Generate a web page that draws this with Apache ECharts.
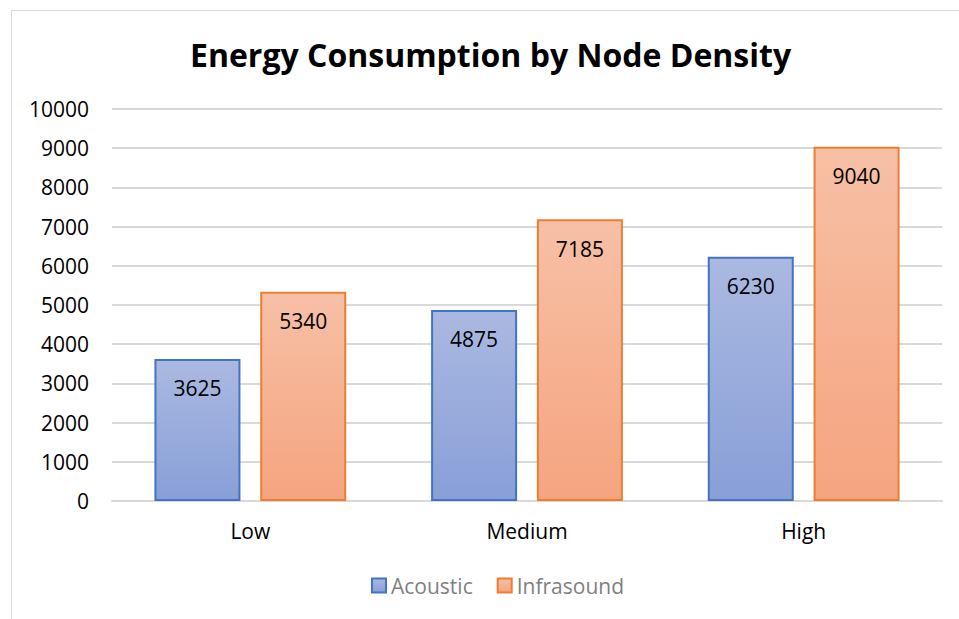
<!DOCTYPE html>
<html lang="en">
<head>
    <meta charset="UTF-8">
    <title>Energy Consumption</title>
    <script src="https://cdn.jsdelivr.net/npm/echarts@6.0.0/dist/echarts.min.js"></script>
    <style>
        body { margin: 0; background: #fff; }
        #frame {
            position: absolute; left: 11px; top: 10px;
            width: 960px; height: 620px;
            border: 1px solid #d9d9d9; box-sizing: border-box;
        }
        #chart { position: absolute; left: 0; top: 0; width: 959px; height: 619px; }
    </style>
</head>
<body>
    <div id="frame"></div>
    <div id="chart"></div>
    <script type="text/javascript">
        const categories = ['Low', 'Medium', 'High'];
        const acoustic = [3625, 4875, 6230];
        const infrasound = [5340, 7185, 9040];
        const yTicks = { min: 0, max: 10000, interval: 1000 };

        const chart = echarts.init(document.getElementById('chart'), null, { renderer: 'svg' });

        const grad = (top, bottom) => new echarts.graphic.LinearGradient(0, 0, 0, 1, [
            { offset: 0, color: top }, { offset: 1, color: bottom }
        ]);

        const label = {
            show: true, position: 'insideTop', distance: 19,
            color: '#000', fontSize: 21, fontFamily: 'Open Sans'
        };

        chart.setOption({
            animation: false,
            title: {
                text: 'Energy Consumption by Node Density',
                left: 185, top: 33,
                textStyle: { fontFamily: 'Open Sans', fontWeight: 'bold', fontSize: 32, color: '#000' }
            },
            legend: {
                bottom: 18, left: 366, itemWidth: 14, itemHeight: 14, itemGap: 24,
                icon: 'rect',
                textStyle: { fontFamily: 'Open Sans', fontSize: 21, color: '#7f7f7f' }
            },
            grid: { left: 112, right: 17, top: 109, bottom: 118 },
            xAxis: {
                type: 'category', data: categories,
                axisLine: { lineStyle: { color: '#d9d9d9', width: 2 } },
                axisTick: { show: false },
                axisLabel: { color: '#000', fontSize: 21, fontFamily: 'Open Sans', margin: 19 }
            },
            yAxis: {
                type: 'value', min: yTicks.min, max: yTicks.max, interval: yTicks.interval,
                axisLine: { show: false }, axisTick: { show: false },
                splitLine: { lineStyle: { color: '#d9d9d9', width: 2 } },
                axisLabel: {
                    color: '#000', fontSize: 21, fontFamily: 'Open Sans', margin: 23,
                    formatter: v => String(v)
                }
            },
            series: [
                {
                    name: 'Acoustic', type: 'bar', data: acoustic, barWidth: 86, barGap: '23%',
                    itemStyle: { color: grad('#aab9e1', '#889fd7'), borderColor: '#4472c4', borderWidth: 2 },
                    label
                },
                {
                    name: 'Infrasound', type: 'bar', data: infrasound, barWidth: 86,
                    itemStyle: { color: grad('#f7c0a6', '#f5a47f'), borderColor: '#ed7d31', borderWidth: 2 },
                    label
                }
            ]
        });
    </script>
</body>
</html>
